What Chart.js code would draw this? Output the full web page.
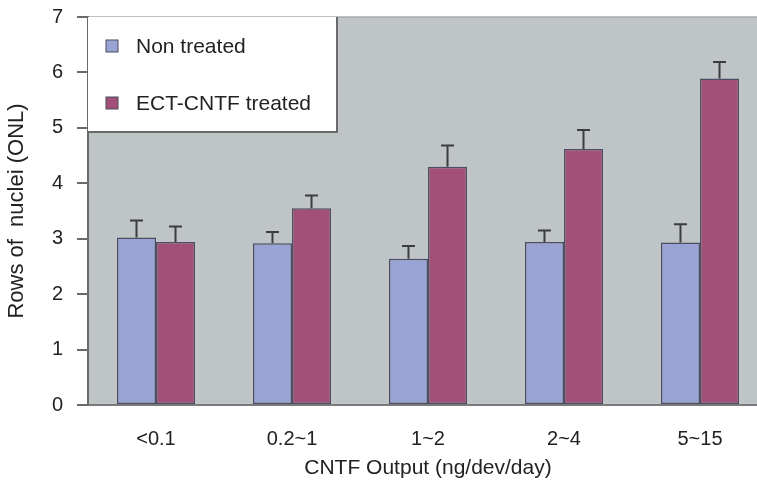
<!DOCTYPE html>
<html>
<head>
<meta charset="utf-8">
<script src="https://cdn.jsdelivr.net/npm/chart.js@4.4.0/dist/chart.umd.min.js"></script>
<style>
  html, body { margin: 0; padding: 0; background: #fff; overflow: hidden; }
  #wrap { width: 768px; height: 490px; position: absolute; left: 0; top: -9px; }
</style>
</head>
<body>
<div id="wrap"><canvas id="myChart"></canvas></div>
<script>
var categories = ['<0.1', '0.2~1', '1~2', '2~4', '5~15'];
var nonTreated = [3.02, 2.92, 2.64, 2.94, 2.93];
var nonSd = [0.31, 0.20, 0.23, 0.21, 0.33];
var ectTreated = [2.94, 3.55, 4.30, 4.62, 5.89];
var ectSd = [0.28, 0.23, 0.38, 0.34, 0.30];
var yTicks = [0, 1, 2, 3, 4, 5, 6, 7];

var FONT = "'Liberation Sans', Arial, sans-serif";

// gray plot background + thin top line
var plotBg = {
    id: 'plotBg',
    beforeDraw: function (chart) {
        var a = chart.chartArea, c = chart.ctx;
        c.save();
        c.fillStyle = '#bfc4c7';
        c.fillRect(a.left, a.top, a.right - a.left, a.bottom - a.top);
        c.strokeStyle = '#a9adb0';
        c.lineWidth = 1.5;
        c.beginPath();
        c.moveTo(a.left, a.top);
        c.lineTo(a.right, a.top);
        c.stroke();
        c.restore();
    }
};

// upward error bars
var errorBars = {
    id: 'errorBars',
    afterDatasetsDraw: function (chart) {
        var c = chart.ctx, y = chart.scales.y;
        var sds = [nonSd, ectSd];
        c.save();
        c.strokeStyle = '#3c3c3c';
        c.lineWidth = 2;
        chart.data.datasets.forEach(function (ds, i) {
            var meta = chart.getDatasetMeta(i);
            meta.data.forEach(function (bar, j) {
                var top = y.getPixelForValue(ds.data[j] + sds[i][j]);
                c.beginPath();
                c.moveTo(bar.x, bar.y);
                c.lineTo(bar.x, top);
                c.moveTo(bar.x - 6.5, top);
                c.lineTo(bar.x + 6.5, top);
                c.stroke();
            });
        });
        c.restore();
    }
};

// legend box in the top-left of the plot
var legendBox = {
    id: 'legendBox',
    afterDatasetsDraw: function (chart) {
        var a = chart.chartArea, c = chart.ctx;
        var x0 = a.left, y0 = a.top, w = 249, h = 115;
        c.save();
        c.fillStyle = '#ffffff';
        c.fillRect(x0, y0, w, h);
        c.strokeStyle = '#6a6a6a';
        c.lineWidth = 2;
        c.beginPath();
        c.moveTo(x0 + w, y0);
        c.lineTo(x0 + w, y0 + h);
        c.lineTo(x0, y0 + h);
        c.stroke();
        var rows = [y0 + 29, y0 + 86];
        chart.data.datasets.forEach(function (ds, i) {
            c.fillStyle = ds.backgroundColor;
            c.fillRect(x0 + 18, rows[i] - 6, 12, 12);
            c.strokeStyle = '#4a4a5a';
            c.lineWidth = 1;
            c.strokeRect(x0 + 18, rows[i] - 6, 12, 12);
            c.fillStyle = '#222';
            c.font = '21px ' + FONT;
            c.textBaseline = 'middle';
            c.fillText(ds.label, x0 + 48, rows[i] + 1);
        });
        c.restore();
    }
};

var ctx = document.getElementById('myChart').getContext('2d');
var myChart = new Chart(ctx, {
    type: 'bar',
    data: {
        labels: categories,
        datasets: [{
            label: 'Non treated',
            data: nonTreated,
            backgroundColor: '#99a4d4',
            borderColor: '#4e4e62',
            borderWidth: 1.5,
            borderSkipped: false
        }, {
            label: 'ECT-CNTF treated',
            data: ectTreated,
            backgroundColor: '#a35079',
            borderColor: '#4e4e62',
            borderWidth: 1.5,
            borderSkipped: false
        }]
    },
    options: {
        responsive: true,
        maintainAspectRatio: false,
        animation: false,
        layout: { padding: { top: 6, right: 0, bottom: 0, left: 0 } },
        plugins: {
            legend: { display: false },
            tooltip: { enabled: false }
        },
        datasets: {
            bar: { categoryPercentage: 0.574, barPercentage: 1.0 }
        },
        scales: {
            x: {
                grid: { display: false, drawTicks: false },
                border: { display: true, color: '#7a7a7a', width: 2 },
                ticks: { color: '#222', font: { family: FONT, size: 20 }, padding: 22, maxRotation: 0 },
                title: {
                    display: true, text: 'CNTF Output (ng/dev/day)', color: '#222',
                    font: { family: FONT, size: 21 }, padding: { top: 0, bottom: 0 }
                },
                afterFit: function (s) { s.height = 76; }
            },
            y: {
                min: 0, max: 7,
                afterBuildTicks: function (s) { s.ticks = yTicks.map(function (v) { return { value: v }; }); },
                grid: { drawOnChartArea: false, drawTicks: true, tickLength: 11, color: '#6a6a6a', lineWidth: 2 },
                border: { display: true, color: '#6a6a6a', width: 2 },
                ticks: { color: '#222', font: { family: FONT, size: 20 }, padding: 14 },
                title: {
                    display: true, text: 'Rows of  nuclei (ONL)', color: '#222',
                    font: { family: FONT, size: 22 }, padding: { top: 4, bottom: 0 }
                },
                afterFit: function (s) { s.width = 88; }
            }
        }
    },
    plugins: [plotBg, errorBars, legendBox]
});
</script>
</body>
</html>
